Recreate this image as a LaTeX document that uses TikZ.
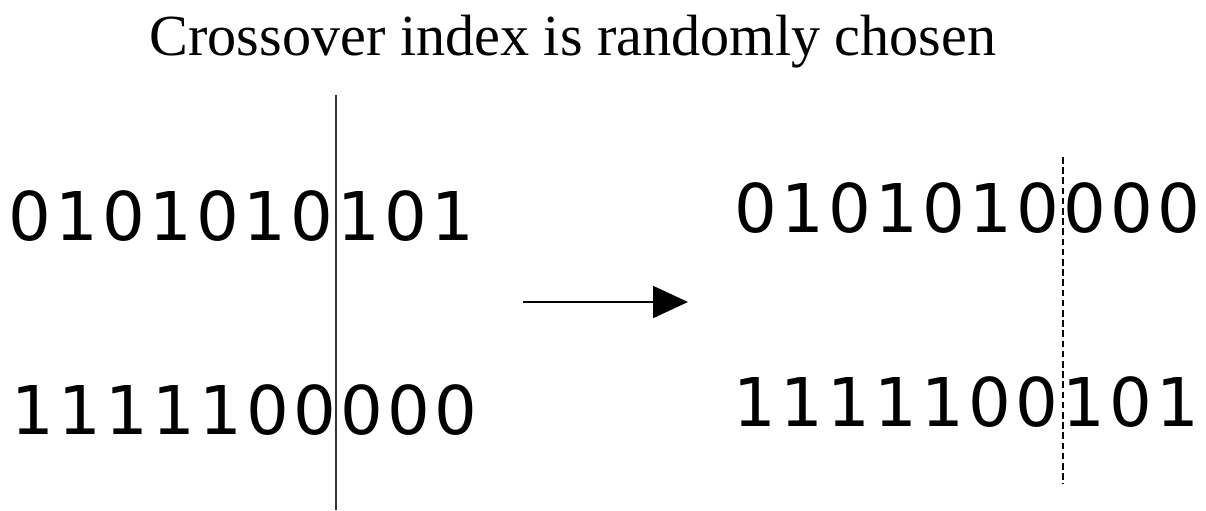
\documentclass[tikz,border=0pt]{standalone}
\usepackage{fontspec}
\setmainfont{Liberation Serif}
\newfontfamily\bitfont{DejaVu Sans}
\usetikzlibrary{arrows.meta}

\begin{document}
\begin{tikzpicture}[
    x=0.5pt, y=-0.5pt,
    title/.style={font=\fontsize{29.1}{31}\selectfont, anchor=base, inner sep=0pt},
    bit/.style={font=\bitfont\fontsize{33.6}{36}\selectfont, anchor=base, inner sep=0pt},
    cut/.style={line width=1pt, black!80},
    newcut/.style={line width=1pt, dash pattern=on 3.3pt off 1.8pt},
    arr/.style={-{Triangle[length=17.5pt, width=16pt]}, line width=1pt},
]
  \useasboundingbox (0,0) rectangle (1206,510);
  \node[title] (title) at (573,55) {Crossover index is randomly chosen};

  % parents
  \foreach \d [count=\i from 0] in {0,1,0,1,0,1,0,1,0,1}
    \node[bit] (pa\i) at (30+47*\i,240) {\d};
  \foreach \d [count=\i from 0] in {1,1,1,1,1,0,0,0,0,0}
    \node[bit] (pb\i) at (33+47*\i,434) {\d};
  \coordinate (cuttop) at (335.5,95);
  \coordinate (cutbot) at (335.5,510);
  \draw[cut] (cuttop) -- (cutbot);

  % offspring
  \foreach \d [count=\i from 0] in {0,1,0,1,0,1,0,0,0,0}
    \node[bit] (ca\i) at (755.5+47*\i,232) {\d};
  \foreach \d [count=\i from 0] in {1,1,1,1,1,0,0,1,0,1}
    \node[bit] (cb\i) at (755+47*\i,426) {\d};
  \coordinate (newtop) at (1063,157);
  \coordinate (newbot) at (1063,484);
  \draw[newcut] (newtop) -- (newbot);

  \coordinate (arrtail) at (523,302);
  \coordinate (arrhead) at (688,302);
  \draw[arr] (arrtail) -- (arrhead);
\end{tikzpicture}
\end{document}
